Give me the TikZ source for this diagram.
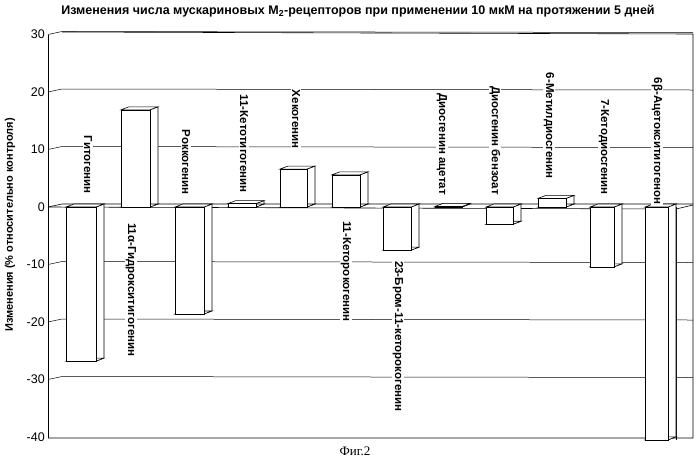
\documentclass[tikz,border=0pt]{standalone}
\usepackage{fontspec}
\setmainfont{Liberation Serif}
\setsansfont{Liberation Sans}
\begin{document}
\begin{tikzpicture}[x=1pt,y=-1pt,
  lab/.style={font=\sffamily\bfseries\fontsize{11.5}{12}\selectfont,rotate=-90,fill=white,inner sep=1pt},
  tick/.style={font=\sffamily\fontsize{12.5}{13}\selectfont,anchor=east,inner sep=1pt},
  barf/.style={draw=black,fill=white,line width=0.6pt}]
\useasboundingbox (0,0) rectangle (700,464);
\def\Y#1{207-5.75*#1}
% back wall
\draw[line width=0.6pt] (62,32) -- (693,34) -- (693,438) -- (48,438);
\draw[line width=0.6pt] (48,35) -- (48,438);
\draw[line width=0.6pt] (676,207) -- (676,440);
\foreach \v in {-30,-20,-10,10,20,30}{
  \draw[line width=0.5pt] (48,{\Y{\v}}) -- (62,{\Y{\v}-3}) -- (693,{\Y{\v}-2});
  \node[tick] at (46,{\Y{\v}}) {\v};
}
\node[tick] at (46,{\Y{-40}}) {-40};
\node[tick] at (46,{\Y{0}}) {0};
\draw[line width=0.6pt] (48,207) -- (62,204) -- (693,204);
\draw[line width=0.6pt] (48,207) -- (676,209) -- (693,205);
\newcommand\mybar[3]{%
  \pgfmathsetmacro\yv{207-5.75*#3}
  \pgfmathsetmacro\xd{#2+8}
  \filldraw[barf] (#2,207) -- (\xd,204) -- (\xd,\yv-3) -- (#2,\yv) -- cycle;
  \filldraw[barf] (#1,207) -- (#1+8,204) -- (\xd,204) -- (#2,207) -- cycle;
  \filldraw[barf] (#1,\yv) -- (#1+8,\yv-3) -- (\xd,\yv-3) -- (#2,\yv) -- cycle;
  \filldraw[barf] (#1,207) rectangle (#2,\yv);
}
\mybar{66}{96}{-26.8}
\mybar{121}{150}{16.9}
\mybar{175}{204}{-18.6}
\mybar{228}{256}{0.6}
\mybar{280}{307}{6.6}
\mybar{332}{360}{5.6}
\mybar{383}{411}{-7.5}
\mybar{435}{462}{0.1}
\mybar{486}{513}{-3.0}
\mybar{538}{566}{1.5}
\mybar{590}{614}{-10.4}
\mybar{645}{668}{-40.5}
% labels
\node[lab,anchor=east] (l1) at (88,195) {Гитогенин};
\node[lab,anchor=west] (l2) at (131,222) {11α-Гидрокситигогенин};
\node[lab,anchor=east] (l3) at (186,196) {Роккогенин};
\node[lab,anchor=east] (l4) at (244,194) {11-Кетотигогенин};
\node[lab,anchor=east] (l5) at (296,150) {Хекогенин};
\node[lab,anchor=west] (l6) at (346,220) {11-Кеторокогенин};
\node[lab,anchor=west] (l7) at (398,260) {23-Бром-11-кеторокогенин};
\node[lab,anchor=east] (l8) at (442,196) {Диосгенин ацетат};
\node[lab,anchor=east] (l9) at (495,196) {Диосгенин бензоат};
\node[lab,anchor=east] (l10) at (549,180) {6-Метилдиосгенин};
\node[lab,anchor=east] (l11) at (604,196) {7-Кетодиосгенин};
\node[lab,anchor=east] (l12) at (657,206) {6β-Ацетокситигогенон};
\node[font=\sffamily\bfseries\fontsize{11}{12}\selectfont,rotate=90] (ya) at (10,225) {Изменения (\% относительно контроля)};
\node[font=\sffamily\bfseries\fontsize{12.5}{13}\selectfont] (t) at (358,11) {Изменения числа мускариновых M\textsubscript{2}-рецепторов при применении 10 мкМ на протяжении 5 дней};
\node[font=\rmfamily\fontsize{13}{14}\selectfont] (f) at (355,451) {Фиг.2};
\end{tikzpicture}
\end{document}
